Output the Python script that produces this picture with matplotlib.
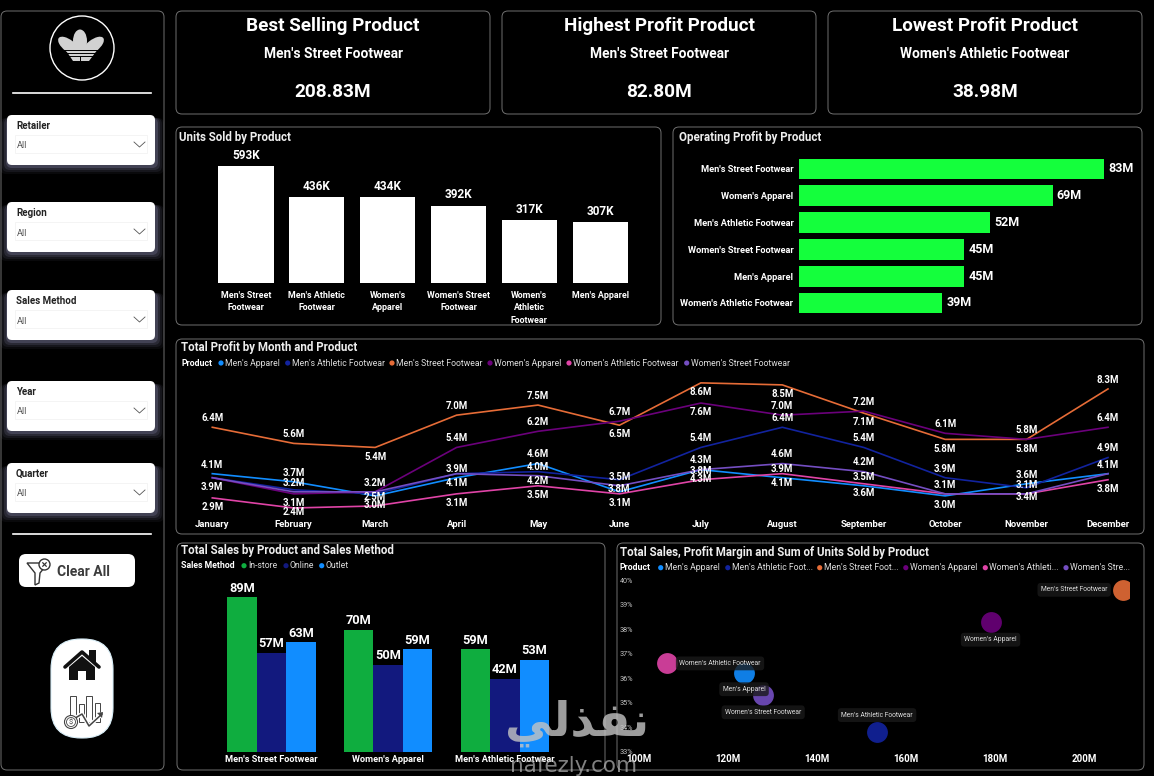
import matplotlib
matplotlib.use("Agg")
import matplotlib.pyplot as plt
from matplotlib.patches import Circle, Ellipse, FancyBboxPatch, Polygon, Rectangle

W, H = 1154, 776

# kpi cards
kpi_titles = ["Best Selling Product", "Highest Profit Product", "Lowest Profit Product"]
kpi_products = ["Men's Street Footwear", "Men's Street Footwear", "Women's Athletic Footwear"]
kpi_values = ["208.83M", "82.80M", "38.98M"]

slicers = ["Retailer", "Region", "Sales Method", "Year", "Quarter"]

# units sold, thousands
unit_products = ["Men's Street\nFootwear", "Men's Athletic\nFootwear", "Women's\nApparel",
                 "Women's Street\nFootwear", "Women's\nAthletic\nFootwear", "Men's Apparel"]
unit_values = [593, 436, 434, 392, 317, 307]

# operating profit, millions
profit_products = ["Men's Street Footwear", "Women's Apparel", "Men's Athletic Footwear",
                   "Women's Street Footwear", "Men's Apparel", "Women's Athletic Footwear"]
profit_values = [83, 69, 52, 45, 45, 39]

# monthly profit, millions
months = ["January", "February", "March", "April", "May", "June", "July",
          "August", "September", "October", "November", "December"]
mens_apparel = [4.1, 3.7, 3.0, 3.9, 4.6, 3.2, 4.3, 3.9, 3.5, 3.0, 3.6, 4.1]
mens_athletic = [3.9, 3.3, 3.1, 4.1, 4.2, 3.8, 5.4, 6.4, 5.4, 3.9, 3.4, 4.9]
mens_street = [6.4, 5.6, 5.4, 7.0, 7.5, 6.5, 8.6, 8.5, 7.1, 5.8, 5.8, 8.3]
womens_apparel = [3.9, 3.1, 3.2, 5.4, 6.2, 6.7, 7.6, 7.0, 7.2, 6.1, 5.8, 6.4]
womens_athletic = [2.9, 2.4, 2.5, 3.1, 3.5, 3.1, 3.8, 4.1, 3.6, 3.1, 3.1, 3.8]
womens_street = [3.9, 3.2, 3.2, 4.1, 4.0, 3.5, 4.3, 4.6, 4.2, 3.1, 3.1, 4.1]

# sales by method, millions
method_products = ["Men's Street Footwear", "Women's Apparel", "Men's Athletic Footwear"]
in_store = [89, 70, 59]
online = [57, 50, 42]
outlet = [63, 59, 53]

# scatter: total sales (millions), profit margin (%)
scatter_sales = [123.6, 153.5, 208.8, 179.0, 106.3, 127.9]
scatter_margin = [36.2, 33.8, 39.6, 38.3, 36.6, 35.3]

# styles
COL_MA = "#118DFF"
COL_MATH = "#12239E"
COL_MS = "#E66C37"
COL_WA = "#6B007B"
COL_WATH = "#E044A7"
COL_WS = "#744EC2"
GREEN = "#14FF3C"
EDGE = "#707070"
FONT = "Roboto"

plt.rcParams["font.family"] = [FONT, "DejaVu Sans"]


def axes_px(fig, left, top, right, bottom):
    ax = fig.add_axes([left / W, 1 - bottom / H, (right - left) / W, (bottom - top) / H])
    ax.patch.set_alpha(0)
    for s in ax.spines.values():
        s.set_visible(False)
    ax.tick_params(length=0)
    return ax


def panel(bg, x0, y0, x1, y1):
    bg.add_patch(FancyBboxPatch((x0, y0), x1 - x0, y1 - y0, boxstyle="round,pad=0,rounding_size=6",
                                fc="black", ec=EDGE, lw=0.7))


def rounded(bg, x0, y0, x1, y1, r, fc="white", ec="none", alpha=1.0, lw=0.8, zorder=2):
    bg.add_patch(FancyBboxPatch((x0, y0), x1 - x0, y1 - y0, boxstyle=f"round,pad=0,rounding_size={r}",
                                fc=fc, ec=ec, alpha=alpha, lw=lw, zorder=zorder))


def draw_logo(bg):
    bg.add_patch(Circle((82, 48), 32, fc="black", ec="white", lw=1.0))
    c = "#d2d2d2"
    bg.add_patch(Ellipse((80, 41), 14, 23, fc=c, ec="none"))
    bg.add_patch(Ellipse((69, 46), 12, 26, angle=-52, fc=c, ec="none"))
    bg.add_patch(Ellipse((93, 46), 12, 26, angle=52, fc=c, ec="none"))
    bg.add_patch(Polygon([(65, 49), (98, 49), (89, 61), (73, 61)], fc=c, ec="none"))
    for y in [49.5, 52.5, 55.5]:
        bg.plot([60, 104], [y, y], color="black", lw=0.7)
    bg.plot([80, 80], [57, 63], color="black", lw=0.7)


def draw_slicers(bg):
    tops = [115, 202, 290, 381, 463]
    for name, top in zip(slicers, tops):
        for grow, a in [(9, 0.05), (7, 0.08), (5, 0.12), (3, 0.18)]:
            rounded(bg, 7 - grow + 2, top + 3, 155 + grow, top + 50 + grow, 6, fc="#b9b4e6", alpha=a)
        rounded(bg, 7, top, 155, top + 50, 5)
        bg.text(16, top + 11, name, fontsize=7, fontweight="bold", color="#222222", va="center", zorder=3)
        bg.add_patch(Rectangle((15, top + 20), 132, 18, fc="white", ec="#f4f4f4", lw=0.7, zorder=3))
        bg.text(17, top + 31, "All", fontsize=6.6, color="#555555", va="center", zorder=4)
        bg.plot([134, 139.5, 145], [top + 27, top + 32, top + 27], color="#555555", lw=0.6, zorder=4)


def draw_clear_button(bg):
    rounded(bg, 19, 554, 135, 587, 7)
    funnel = [(27, 563), (48, 563), (40, 573), (39, 583), (35, 585), (35, 573)]
    bg.add_patch(Polygon(funnel, fc="white", ec="#333333", lw=1.0, zorder=3))
    bg.add_patch(Circle((44.5, 564.5), 5.5, fc="white", ec="#333333", lw=1.0, zorder=4))
    bg.plot([42.8, 46.2], [562.8, 566.2], color="#333333", lw=0.9, zorder=5)
    bg.plot([42.8, 46.2], [566.2, 562.8], color="#333333", lw=0.9, zorder=5)
    bg.text(57, 572, "Clear All", fontsize=10, fontweight="bold", color="#3c3c3c", va="center", zorder=3)


def draw_nav(bg):
    rounded(bg, 51, 639, 113, 738, 30, ec="#d8eef8", lw=0.8)
    k = "#111111"
    bg.plot([65, 82, 99], [667, 652, 667], color=k, lw=2.6, solid_capstyle="round", zorder=3)
    bg.add_patch(Polygon([(89, 650), (96, 650), (96, 663), (89, 657)], fc=k, ec="none", zorder=3))
    bg.add_patch(Polygon([(69, 667), (82, 656), (95, 667), (95, 680), (86, 680), (86, 671), (78, 671),
                          (78, 680), (69, 680)], fc=k, ec="none", zorder=3))
    g = "#444444"
    for x0, x1, top in [(70, 76, 696), (79, 84, 704), (86, 92, 696), (95, 100, 703)]:
        bg.add_patch(Rectangle((x0, top), x1 - x0, 722 - top, fc="white", ec=g, lw=0.7, zorder=3))
    bg.plot([72, 82, 89, 102], [720, 714, 726, 714], color="white", lw=3, zorder=4)
    bg.plot([72, 82, 89, 102], [720, 714, 726, 714], color=g, lw=1.1, zorder=5)
    bg.add_patch(Polygon([(97, 713), (103, 712), (102, 718)], fc=g, ec="none", zorder=5))
    bg.add_patch(Circle((71, 722), 6.5, fc="white", ec=g, lw=0.8, zorder=5))
    bg.add_patch(Circle((71, 722), 4.5, fc="white", ec=g, lw=0.6, zorder=6))
    bg.text(71, 722, "$", fontsize=5.5, color=g, ha="center", va="center", zorder=7)


def legend(bg, y, title, x, entries):
    bg.text(x, y, title, fontsize=6.3, fontweight="bold", color="white", va="center")
    for dot_x, name, col in entries:
        bg.add_patch(Circle((dot_x, y), 2.6, fc=col, ec="none"))
        bg.text(dot_x + 4, y, name, fontsize=6.2, color="#dedede", va="center")


def draw_units(fig):
    ax = axes_px(fig, 210.6, 156, 635.6, 283)
    xs = range(len(unit_values))
    ax.bar(xs, unit_values, width=0.78, color="white")
    for x, v in zip(xs, unit_values):
        ax.annotate(f"{v}K", (x, v), xytext=(0, 3), textcoords="offset points", ha="center", va="bottom",
                    color="white", fontsize=8.5, fontweight="bold")
    ax.set_xlim(-0.5, 5.5)
    ax.set_ylim(0, 127 / 0.1973)
    ax.set_xticks(list(xs))
    ax.set_xticklabels(unit_products, fontsize=6.4, fontweight="bold", color="white", linespacing=1.55)
    ax.tick_params(axis="x", pad=5.5)
    ax.set_yticks([])


def draw_profit(fig):
    ax = axes_px(fig, 799, 155.6, 1130, 316.4)
    ys = range(len(profit_values))
    ax.barh(ys, profit_values, height=0.78, color=GREEN)
    for y, v in zip(ys, profit_values):
        ax.annotate(f"{v}M", (v, y), xytext=(3, 0), textcoords="offset points", va="center",
                    color="white", fontsize=9, fontweight="bold")
    ax.set_xlim(0, 331 / 3.675)
    ax.set_ylim(5.5, -0.5)
    ax.set_yticks(list(ys))
    ax.set_yticklabels(profit_products, fontsize=6.7, fontweight="bold", color="white")
    ax.tick_params(axis="y", pad=4)
    ax.set_xticks([])


def draw_lines(fig):
    ax = axes_px(fig, 212.3, 375, 1108, 510)
    # label side per month: 1 above the point, -1 below, 0 none shown
    series = [
        (mens_apparel, COL_MA, [1, 1, -1, 1, 1, 0, -1, 1, 1, -1, 1, 1]),
        (mens_athletic, COL_MATH, [0, 0, 0, -1, -1, -1, 1, 1, 1, 1, -1, 1]),
        (mens_street, COL_MS, [1, 1, -1, 1, 1, -1, -1, -1, -1, -1, -1, 1]),
        (womens_apparel, COL_WA, [0, -1, 1, 1, 1, 1, -1, 1, 1, 1, 1, 1]),
        (womens_athletic, COL_WATH, [-1, -0.4, 1, -1, -1, -1, 1, -1, -1, 0, 0, -1]),
        (womens_street, COL_WS, [-1, 1, 0, 0, 1, 1, 1, 1, 1, 1, 1, 0]),
    ]
    xs = list(range(12))
    for vals, col, _ in series:
        ax.plot(xs, vals, color=col, lw=1.2, clip_on=False)
    for vals, _, sides in series:
        for x, v, side in zip(xs, vals, sides):
            if side:
                ax.annotate(f"{v:.1f}M", (x, v), xytext=(0, side * 6.6), textcoords="offset points",
                            ha="center", va="center", color="white", fontsize=6.9, fontweight="bold")
    ax.set_xlim(0, 11)
    ax.set_ylim(2.30, 8.99)
    ax.set_yticks([])
    ax.set_xticks(xs)
    ax.set_xticklabels(months, fontsize=6.8, fontweight="bold", color="white")
    ax.tick_params(axis="x", pad=7)


def draw_methods(fig):
    ax = axes_px(fig, 212.9, 590, 563.4, 751.7)
    w = 0.2526
    xs = list(range(len(method_products)))
    groups = [(in_store, "#0FAD3F", -w), (online, "#12197E", 0), (outlet, "#118DFF", w)]
    for vals, col, off in groups:
        ax.bar([x + off for x in xs], vals, width=w, color=col)
        for x, v in zip(xs, vals):
            ax.annotate(f"{v}M", (x + off, v), xytext=(0, 2), textcoords="offset points", ha="center", va="bottom",
                        color="white", fontsize=9.2, fontweight="bold", zorder=5,
                        bbox=dict(fc="black", ec="none", pad=0.6))
    ax.set_xlim(-0.5, 2.5)
    ax.set_ylim(0, 161.7 / 1.735)
    ax.set_yticks([])
    ax.set_xticks(xs)
    ax.set_xticklabels(method_products, fontsize=6.6, fontweight="bold", color="white")
    ax.tick_params(axis="x", pad=2.5)


def draw_scatter(fig):
    ax = axes_px(fig, 639, 580, 1129, 751.7)
    cols = [COL_MA, COL_MATH, COL_MS, COL_WA, COL_WATH, COL_WS]
    names = ["Men's Apparel", "Men's Athletic Footwear", "Men's Street Footwear", "Women's Apparel",
             "Women's Athletic Footwear", "Women's Street Footwear"]
    offsets = [(0, -16), (0, 17), (-49, 0), (0, -18), (53, 0), (0, -17)]
    for x, y, c in zip(scatter_sales, scatter_margin, cols):
        ax.scatter([x], [y], s=225, color=c, alpha=0.9, linewidths=0, zorder=2)
    for x, y, name, (dx, dy) in zip(scatter_sales, scatter_margin, names, offsets):
        ax.annotate(name, (x, y), xytext=(dx * 0.72, dy * 0.72), textcoords="offset points", ha="center", va="center",
                    color="#dcdcdc", fontsize=4.9, zorder=4, annotation_clip=False,
                    bbox=dict(fc="#1a1a1a", ec="none", alpha=0.8, boxstyle="round,pad=0.5"))
    ax.set_xlim(100, 100 + 490 / 4.45)
    ax.set_ylim(33, 40)
    ax.set_xticks([100, 120, 140, 160, 180, 200])
    ax.set_xticklabels(["100M", "120M", "140M", "160M", "180M", "200M"], fontsize=7, fontweight="bold", color="white")
    ax.set_yticks(list(range(33, 41)))
    ax.set_yticklabels([f"{v}%" for v in range(33, 41)], fontsize=5.2, color="#c4c4c4")
    ax.tick_params(axis="x", pad=2)
    ax.tick_params(axis="y", pad=4)


def draw_watermark(fig):
    top = fig.add_axes([0, 0, 1, 1], zorder=20)
    top.set_xlim(0, W)
    top.set_ylim(H, 0)
    top.axis("off")
    top.patch.set_alpha(0)
    # presentation forms in visual order, matplotlib does no arabic shaping
    top.text(577, 723, "\ufef2\ufedf\ufeac\ufed4\ufee7", family="DejaVu Sans", fontsize=34, fontweight="bold",
             color="#c4c4c4", alpha=0.8, ha="center", va="center")
    top.text(574, 766, "nafezly.com", family="DejaVu Sans", fontsize=15.5, color="#b8b8b8", alpha=0.7,
             ha="center", va="center")


def main() -> None:
    fig = plt.figure(figsize=(W / 100, H / 100), dpi=100, facecolor="black")
    bg = fig.add_axes([0, 0, 1, 1])
    bg.set_xlim(0, W)
    bg.set_ylim(H, 0)
    bg.axis("off")

    panel(bg, 1, 11, 164, 770)
    for x0, x1 in [(176, 490), (502, 816), (828, 1142)]:
        panel(bg, x0, 11, x1, 114)
    panel(bg, 176, 127, 661, 325)
    panel(bg, 673, 127, 1142, 325)
    panel(bg, 176, 339, 1144, 534)
    panel(bg, 177, 543, 605, 770)
    panel(bg, 617, 543, 1144, 770)

    draw_logo(bg)
    for y in [93, 534]:
        bg.plot([13, 151], [y, y], color="white", lw=1.2)
    draw_slicers(bg)
    draw_clear_button(bg)
    draw_nav(bg)

    for cx, title, prod, val in zip([333, 659, 985], kpi_titles, kpi_products, kpi_values):
        bg.text(cx, 26, title, fontsize=13.6, fontweight="bold", color="white", ha="center", va="center")
        bg.text(cx, 54.5, prod, fontsize=9.9, fontweight="bold", color="white", ha="center", va="center")
        bg.text(cx, 92, val, fontsize=13.7, fontweight="bold", color="white", ha="center", va="center")

    titles = [
        (179, 137.5, "Units Sold by Product"),
        (679, 137.5, "Operating Profit by Product"),
        (181, 347.5, "Total Profit by Month and Product"),
        (181, 550.5, "Total Sales by Product and Sales Method"),
        (620, 552.5, "Total Sales, Profit Margin and Sum of Units Sold by Product"),
    ]
    for x, y, t in titles:
        bg.text(x, y, t, fontsize=8.3, fontweight="bold", color="#eeeeee", va="center")

    legend(bg, 363, "Product", 181, [
        (221, "Men's Apparel", COL_MA), (287.7, "Men's Athletic Footwear", COL_MATH),
        (392, "Men's Street Footwear", COL_MS), (490, "Women's Apparel", COL_WA),
        (569, "Women's Athletic Footwear", COL_WATH), (686.7, "Women's Street Footwear", COL_WS),
    ])
    legend(bg, 565.7, "Sales Method", 181, [
        (244, "In-store", "#0FAD3F"), (286, "Online", "#12197E"), (321.7, "Outlet", "#118DFF"),
    ])
    legend(bg, 567.7, "Product", 620, [
        (660.7, "Men's Apparel", COL_MA), (727.8, "Men's Athletic Foot...", COL_MATH),
        (819.7, "Men's Street Foot...", COL_MS), (905.8, "Women's Apparel", COL_WA),
        (985.3, "Women's Athleti...", COL_WATH), (1066, "Women's Stre...", COL_WS),
    ])

    draw_units(fig)
    draw_profit(fig)
    draw_lines(fig)
    draw_methods(fig)
    draw_scatter(fig)
    draw_watermark(fig)

    fig.savefig("out.png", dpi=100, facecolor="black")


main()
